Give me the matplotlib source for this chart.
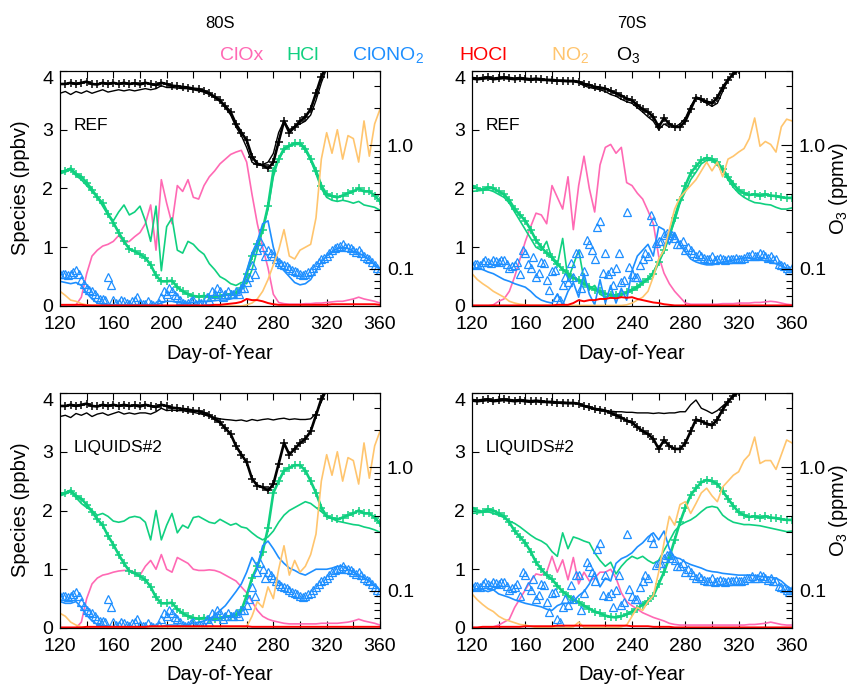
import numpy as np
import matplotlib.pyplot as plt
from matplotlib.ticker import FixedLocator, FixedFormatter, NullFormatter

plt.rcParams['font.family'] = ['Liberation Sans', 'DejaVu Sans']
plt.rcParams['mathtext.fontset'] = 'custom'
plt.rcParams['mathtext.rm'] = 'Liberation Sans'
plt.rcParams['mathtext.it'] = 'Liberation Sans'

PINK = '#ff69b4'
GREEN = '#10d080'
BLUE = '#1e8fff'
RED = '#ff0000'
ORANGE = '#ffc56e'

# day-of-year grid (every 4 days); ClONO2 obs also read in between
days = np.arange(120, 361, 4)
days_mid = np.arange(122, 360, 4)

# ---------------- 80S observations ----------------
hcl_obs_80 = [2.28, 2.30, 2.34, 2.25, 2.20, 2.10, 1.98, 1.85, 1.75, 1.57,
              1.42, 1.25, 1.10, 0.97, 0.93, 0.88, 0.82, 0.70, 0.52, 0.42,
              0.42, 0.43, 0.32, 0.25, 0.20, 0.17, 0.16, 0.17, 0.16, 0.16,
              0.17, 0.19, 0.20, 0.22, 0.30, 0.55, 0.85, 1.05, 1.30, 1.70,
              2.30, 2.50, 2.68, 2.73, 2.77, 2.77, 2.68, 2.50, 2.30, 2.05,
              1.90, 1.87, 1.85, 1.88, 1.92, 1.95, 2.00, 1.95, 1.95, 1.88, 1.78]
clono2_obs_80 = [0.55, 0.55, 0.55, 0.62, 0.45, 0.30, 0.25, 0.15, 0.12, 0.50,
                 0.10, 0.05, 0.08, 0.03, 0.10, 0.05, 0.03, 0.03, 0.02, 0.15,
                 0.20, 0.25, 0.15, 0.05, 0.05, 0.10, 0.05, 0.03, 0.10, 0.20,
                 0.25, 0.20, 0.20, 0.25, 0.30, 0.40, 0.70, 0.95, 1.00, 0.95,
                 0.85, 0.75, 0.70, 0.65, 0.60, 0.55, 0.55, 0.60, 0.70, 0.80,
                 0.85, 0.95, 1.00, 1.05, 1.00, 0.95, 0.95, 0.85, 0.80, 0.70, 0.62]
clono2_obs_80_mid = [0.55, 0.52, 0.58, 0.55, 0.38, 0.28, 0.20, 0.12, 0.10, 0.36,
                     0.05, 0.10, 0.05, 0.08, 0.15, 0.03, 0.08, 0.02, 0.05, 0.25,
                     0.30, 0.18, 0.10, 0.03, 0.08, 0.03, 0.05, 0.15, 0.25, 0.30,
                     0.15, 0.25, 0.20, 0.20, 0.30, 0.50, 0.55, 1.10, 0.85, 0.90,
                     0.80, 0.72, 0.68, 0.62, 0.58, 0.52, 0.58, 0.65, 0.75, 0.82,
                     0.90, 0.98, 1.02, 1.00, 0.98, 0.92, 0.90, 0.82, 0.75, 0.65]
o3_obs_80 = [3.14, 3.14, 3.21, 3.14, 3.21, 3.28, 3.14, 3.11, 3.21, 3.14,
             3.21, 3.14, 3.21, 3.14, 3.18, 3.11, 3.21, 3.14, 3.08, 3.21,
             3.14, 3.04, 3.01, 2.97, 2.94, 2.88, 2.85, 2.76, 2.64, 2.47,
             2.31, 2.07, 1.86, 1.49, 1.27, 1.10, 0.81, 0.71, 0.69, 0.65,
             0.73, 1.07, 1.57, 1.27, 1.41, 1.57, 1.70, 1.96, 2.64, 3.59,
             4.40, 4.80, 4.80, 4.80, 4.80, 4.80, 4.80, 4.80, 4.80, 4.80, 4.80]

# ---------------- 80S REF model ----------------
clox_ref_80 = [0.00, 0.00, 0.00, 0.02, 0.15, 0.55, 0.85, 0.95, 1.02, 1.05,
               1.10, 1.20, 1.08, 1.10, 1.18, 1.25, 1.40, 1.72, 0.95, 2.15,
               1.75, 1.40, 2.05, 1.95, 2.15, 1.85, 1.82, 2.05, 2.20, 2.30,
               2.42, 2.50, 2.58, 2.62, 2.65, 2.45, 1.90, 1.40, 1.00, 0.65,
               0.20, 0.06, 0.04, 0.03, 0.03, 0.03, 0.04, 0.04, 0.05, 0.05,
               0.06, 0.07, 0.08, 0.08, 0.10, 0.12, 0.15, 0.12, 0.10, 0.08, 0.05]
hcl_ref_80 = [2.25, 2.28, 2.32, 2.22, 2.15, 2.05, 1.95, 1.85, 1.70, 1.55,
              1.45, 1.60, 1.72, 1.55, 1.60, 1.70, 1.45, 1.10, 1.70, 0.60,
              1.35, 1.50, 0.95, 0.90, 1.10, 1.05, 0.95, 0.88, 0.72, 0.62,
              0.50, 0.45, 0.38, 0.35, 0.40, 0.38, 0.62, 0.95, 1.30, 1.65,
              2.20, 2.50, 2.65, 2.72, 2.75, 2.75, 2.65, 2.48, 2.25, 2.00,
              1.85, 1.80, 1.78, 1.80, 1.78, 1.75, 1.78, 1.72, 1.70, 1.68, 1.63]
clono2_ref_80 = [0.42, 0.40, 0.38, 0.40, 0.35, 0.22, 0.12, 0.05, 0.03, 0.02,
                 0.02, 0.02, 0.02, 0.02, 0.02, 0.02, 0.02, 0.02, 0.02, 0.05,
                 0.08, 0.08, 0.06, 0.05, 0.05, 0.06, 0.07, 0.08, 0.08, 0.09,
                 0.10, 0.10, 0.12, 0.15, 0.30, 0.60, 0.90, 1.10, 1.40, 1.45,
                 1.00, 0.70, 0.60, 0.50, 0.40, 0.36, 0.38, 0.45, 0.60, 0.75,
                 0.85, 0.92, 0.98, 1.00, 0.98, 0.93, 0.90, 0.85, 0.78, 0.70, 0.62]
hocl_ref_80 = [0.02, 0.02, 0.02, 0.02, 0.02, 0.01, 0.01, 0.01, 0.01, 0.01,
               0.01, 0.01, 0.01, 0.01, 0.01, 0.01, 0.01, 0.01, 0.01, 0.01,
               0.01, 0.01, 0.01, 0.01, 0.01, 0.01, 0.01, 0.01, 0.01, 0.02,
               0.02, 0.03, 0.04, 0.05, 0.07, 0.12, 0.10, 0.10, 0.08, 0.05,
               0.03, 0.02, 0.02, 0.02, 0.02, 0.02, 0.02, 0.02, 0.02, 0.02,
               0.02, 0.03, 0.03, 0.03, 0.03, 0.03, 0.03, 0.03, 0.03, 0.03, 0.02]
no2_ref_80 = [0.25, 0.18, 0.10, 0.08, 0.04, 0.02, 0.01, 0.01, 0.00, 0.00,
              0.00, 0.00, 0.00, 0.00, 0.00, 0.00, 0.00, 0.00, 0.00, 0.00,
              0.00, 0.00, 0.00, 0.00, 0.00, 0.00, 0.00, 0.00, 0.00, 0.00,
              0.00, 0.00, 0.00, 0.00, 0.00, 0.02, 0.05, 0.12, 0.25, 0.45,
              0.70, 0.95, 1.30, 0.85, 0.80, 0.95, 1.00, 1.05, 1.50, 2.50,
              2.95, 2.60, 3.00, 2.50, 2.90, 2.85, 2.45, 3.15, 2.55, 3.10, 3.35]
o3_ref_80 = [2.64, 2.73, 2.58, 2.73, 2.64, 2.76, 2.64, 2.73, 2.82, 2.70,
             2.76, 2.82, 2.76, 2.82, 2.76, 2.82, 2.88, 2.82, 2.88, 3.04,
             2.94, 2.94, 2.91, 2.88, 2.88, 2.82, 2.76, 2.70, 2.58, 2.44,
             2.26, 2.02, 1.76, 1.41, 1.20, 0.96, 0.73, 0.69, 0.70, 0.73,
             0.86, 1.27, 1.57, 1.34, 1.41, 1.49, 1.57, 1.76, 2.31, 3.21,
             4.20, 4.60, 4.60, 4.60, 4.60, 4.60, 4.60, 4.60, 4.60, 4.60, 4.60]

# ---------------- 80S LIQUIDS#2 model ----------------
clox_liq_80 = [0.00, 0.00, 0.00, 0.00, 0.10, 0.50, 0.75, 0.85, 0.90, 0.92,
               0.95, 0.97, 0.98, 0.98, 0.95, 0.90, 1.05, 1.15, 1.00, 1.25,
               1.00, 0.95, 1.20, 1.15, 1.10, 1.00, 0.98, 0.98, 0.99, 0.98,
               0.95, 0.90, 0.85, 0.80, 0.70, 0.60, 0.45, 0.30, 0.20, 0.15,
               0.12, 0.10, 0.08, 0.07, 0.07, 0.07, 0.07, 0.07, 0.07, 0.08,
               0.08, 0.08, 0.08, 0.09, 0.10, 0.12, 0.15, 0.12, 0.10, 0.08, 0.05]
hcl_liq_80 = [2.25, 2.28, 2.32, 2.22, 2.12, 2.05, 2.00, 1.92, 1.95, 1.90,
              1.82, 1.80, 1.82, 1.88, 1.90, 1.88, 1.80, 1.50, 2.00, 1.50,
              1.75, 1.95, 1.62, 1.75, 1.70, 1.88, 1.90, 1.85, 1.80, 1.78,
              1.85, 1.80, 1.75, 1.78, 1.72, 1.70, 1.62, 1.55, 1.50, 1.55,
              1.65, 1.80, 1.92, 2.00, 2.05, 2.10, 2.15, 2.12, 2.05, 1.98,
              1.90, 1.86, 1.82, 1.80, 1.78, 1.76, 1.75, 1.72, 1.70, 1.67, 1.63]
clono2_liq_80 = [0.45, 0.42, 0.42, 0.45, 0.35, 0.22, 0.12, 0.06, 0.04, 0.03,
                 0.02, 0.02, 0.02, 0.02, 0.02, 0.02, 0.02, 0.02, 0.02, 0.02,
                 0.05, 0.05, 0.05, 0.04, 0.06, 0.08, 0.10, 0.12, 0.15, 0.22,
                 0.30, 0.38, 0.50, 0.62, 0.75, 0.95, 1.20, 1.05, 1.40, 1.48,
                 1.35, 1.20, 1.10, 1.02, 0.98, 0.93, 0.90, 0.95, 1.00, 1.00,
                 1.00, 1.02, 1.05, 1.05, 1.00, 0.95, 0.90, 0.85, 0.80, 0.72, 0.65]
hocl_liq_80 = [0.01, 0.01, 0.01, 0.01, 0.01, 0.02, 0.02, 0.02, 0.02, 0.02,
               0.02, 0.02, 0.02, 0.02, 0.02, 0.02, 0.02, 0.03, 0.03, 0.03,
               0.03, 0.03, 0.03, 0.03, 0.03, 0.03, 0.03, 0.03, 0.03, 0.03,
               0.03, 0.03, 0.03, 0.03, 0.03, 0.03, 0.02, 0.02, 0.02, 0.02,
               0.02, 0.02, 0.02, 0.02, 0.02, 0.02, 0.02, 0.02, 0.02, 0.02,
               0.02, 0.02, 0.02, 0.02, 0.02, 0.02, 0.02, 0.02, 0.02, 0.02, 0.02]
no2_liq_80 = [0.25, 0.20, 0.10, 0.05, 0.02, 0.01, 0.00, 0.00, 0.00, 0.00,
              0.00, 0.00, 0.00, 0.00, 0.00, 0.00, 0.00, 0.00, 0.00, 0.00,
              0.00, 0.00, 0.00, 0.00, 0.00, 0.00, 0.00, 0.00, 0.00, 0.00,
              0.00, 0.00, 0.00, 0.00, 0.00, 0.02, 0.20, 0.45, 0.35, 0.70,
              0.50, 1.00, 1.40, 0.90, 1.15, 0.95, 1.05, 1.25, 1.60, 2.50,
              2.95, 2.60, 3.00, 2.50, 2.90, 2.85, 2.45, 3.15, 2.55, 3.10, 3.35]
o3_liq_80 = [2.58, 2.64, 2.53, 2.73, 2.64, 2.76, 2.58, 2.70, 2.76, 2.64,
             2.73, 2.82, 2.70, 2.76, 2.70, 2.76, 2.76, 2.70, 2.82, 3.01,
             2.88, 2.91, 2.88, 2.88, 2.82, 2.79, 2.73, 2.67, 2.58, 2.53,
             2.47, 2.44, 2.42, 2.39, 2.42, 2.36, 2.44, 2.39, 2.44, 2.47,
             2.42, 2.47, 2.50, 2.44, 2.47, 2.44, 2.44, 2.47, 2.73, 3.39,
             4.20, 4.60, 4.60, 4.60, 4.60, 4.60, 4.60, 4.60, 4.60, 4.60, 4.60]

# ---------------- 70S observations ----------------
hcl_obs_70 = [2.05, 2.00, 1.98, 2.02, 2.00, 1.95, 1.90, 1.80, 1.65, 1.55,
              1.45, 1.30, 1.12, 1.00, 0.90, 0.83, 0.72, 0.62, 0.55, 0.48,
              0.44, 0.38, 0.33, 0.28, 0.25, 0.21, 0.19, 0.18, 0.20, 0.23,
              0.28, 0.33, 0.40, 0.46, 0.55, 0.75, 0.95, 1.20, 1.50, 1.80,
              2.05, 2.26, 2.38, 2.48, 2.52, 2.50, 2.45, 2.33, 2.20, 2.08,
              1.97, 1.92, 1.89, 1.90, 1.88, 1.90, 1.88, 1.87, 1.85, 1.84, 1.84]
clono2_obs_70 = [0.70, 0.72, 0.75, 0.75, 0.78, 0.75, 0.78, 0.65, 0.70, 0.55,
                 0.90, 0.65, 0.50, 0.75, 0.45, 0.60, 0.15, 0.35, 0.40, 0.50,
                 0.90, 0.60, 1.05, 0.80, 1.45, 0.90, 0.60, 0.65, 0.40, 1.60,
                 0.55, 0.50, 0.80, 0.85, 1.45, 1.10, 1.20, 1.25, 1.15, 1.05,
                 0.95, 0.95, 0.85, 0.85, 0.80, 0.85, 0.80, 0.80, 0.80, 0.80,
                 0.80, 0.82, 0.85, 0.85, 0.90, 0.85, 0.85, 0.80, 0.70, 0.65, 0.65]
clono2_obs_70_mid = [0.72, 0.70, 0.78, 0.74, 0.76, 0.78, 0.72, 0.68, 0.75, 0.95,
                     0.72, 0.84, 0.56, 0.73, 0.27, 0.62, 0.10, 0.50, 0.73, 0.90,
                     0.30, 1.12, 0.95, 1.35, 0.56, 0.55, 0.35, 0.90, 0.44, 0.67,
                     0.50, 0.70, 0.90, 1.55, 1.07, 1.10, 1.24, 1.20, 1.05, 1.10,
                     1.00, 0.90, 0.88, 0.82, 0.80, 0.78, 0.82, 0.78, 0.80, 0.82,
                     0.80, 0.85, 0.88, 0.85, 0.88, 0.82, 0.80, 0.72, 0.68, 0.62]
o3_obs_70 = [3.51, 3.47, 3.51, 3.55, 3.47, 3.51, 3.55, 3.51, 3.47, 3.51,
             3.47, 3.43, 3.47, 3.43, 3.39, 3.39, 3.35, 3.35, 3.32, 3.32,
             3.28, 3.14, 3.08, 2.97, 2.94, 2.88, 2.76, 2.64, 2.53, 2.39,
             2.31, 2.12, 1.96, 1.86, 1.70, 1.41, 1.66, 1.49, 1.41, 1.41,
             1.57, 1.96, 2.44, 2.36, 2.26, 2.19, 2.44, 2.94, 3.39, 3.79,
             4.08, 4.40, 4.60, 4.60, 4.60, 4.60, 4.60, 4.60, 4.60, 4.60, 4.60]

# ---------------- 70S REF model ----------------
clox_ref_70 = [0.00, 0.00, 0.00, 0.00, 0.02, 0.08, 0.12, 0.25, 0.50, 0.80,
               1.10, 1.35, 1.58, 1.55, 1.40, 2.05, 1.85, 1.65, 2.20, 1.30,
               2.05, 2.55, 2.00, 1.60, 2.40, 2.70, 2.75, 2.60, 2.70, 2.10,
               2.05, 1.92, 1.82, 1.62, 1.40, 0.85, 0.56, 0.38, 0.25, 0.15,
               0.05, 0.03, 0.03, 0.03, 0.03, 0.03, 0.03, 0.04, 0.04, 0.04,
               0.05, 0.05, 0.05, 0.06, 0.06, 0.07, 0.08, 0.07, 0.05, 0.03, 0.02]
hcl_ref_70 = [1.95, 1.96, 1.97, 1.98, 1.95, 1.90, 1.85, 1.75, 1.60, 1.45,
              1.30, 1.15, 1.00, 0.95, 1.10, 0.80, 0.70, 1.15, 0.45, 0.70,
              0.95, 0.45, 0.28, 0.35, 0.20, 0.15, 0.18, 0.15, 0.18, 0.22,
              0.26, 0.30, 0.38, 0.46, 0.58, 0.75, 0.95, 1.18, 1.45, 1.75,
              1.95, 2.15, 2.28, 2.42, 2.48, 2.48, 2.40, 2.30, 2.15, 2.02,
              1.92, 1.85, 1.80, 1.76, 1.75, 1.73, 1.72, 1.68, 1.65, 1.65, 1.67]
clono2_ref_70 = [0.62, 0.65, 0.62, 0.58, 0.55, 0.50, 0.45, 0.42, 0.38, 0.35,
                 0.32, 0.25, 0.16, 0.10, 0.07, 0.05, 0.20, 0.02, 0.25, 0.40,
                 0.15, 0.55, 0.20, 0.02, 0.45, 0.05, 0.35, 0.05, 0.30, 0.10,
                 0.60, 0.85, 0.95, 1.05, 0.85, 1.35, 1.30, 1.05, 1.25, 1.05,
                 0.92, 0.80, 0.75, 0.72, 0.70, 0.70, 0.72, 0.75, 0.76, 0.78,
                 0.80, 0.82, 0.82, 0.80, 0.79, 0.77, 0.75, 0.72, 0.68, 0.64, 0.60]
hocl_ref_70 = [0.01, 0.01, 0.01, 0.01, 0.01, 0.01, 0.01, 0.01, 0.01, 0.01,
               0.01, 0.01, 0.01, 0.01, 0.01, 0.01, 0.02, 0.02, 0.02, 0.05,
               0.10, 0.08, 0.10, 0.10, 0.12, 0.12, 0.14, 0.13, 0.15, 0.14,
               0.15, 0.12, 0.10, 0.08, 0.06, 0.05, 0.03, 0.02, 0.01, 0.01,
               0.01, 0.01, 0.01, 0.01, 0.01, 0.01, 0.01, 0.01, 0.01, 0.01,
               0.01, 0.01, 0.01, 0.01, 0.01, 0.01, 0.01, 0.01, 0.01, 0.01, 0.01]
no2_ref_70 = [0.55, 0.45, 0.38, 0.32, 0.25, 0.20, 0.15, 0.08, 0.05, 0.03,
              0.02, 0.01, 0.01, 0.01, 0.01, 0.01, 0.01, 0.01, 0.01, 0.01,
              0.01, 0.01, 0.01, 0.01, 0.01, 0.01, 0.01, 0.01, 0.01, 0.02,
              0.05, 0.10, 0.15, 0.25, 0.50, 0.80, 0.95, 1.30, 1.65, 1.85,
              1.95, 2.05, 2.15, 2.30, 2.45, 2.30, 2.45, 2.20, 2.50, 2.55,
              2.62, 2.68, 2.85, 3.20, 2.72, 2.80, 2.75, 2.62, 3.05, 3.18, 3.15]
o3_ref_70 = [3.43, 3.39, 3.43, 3.47, 3.39, 3.43, 3.47, 3.43, 3.39, 3.43,
             3.39, 3.35, 3.39, 3.35, 3.35, 3.32, 3.32, 3.28, 3.28, 3.28,
             3.21, 3.04, 2.94, 2.88, 2.82, 2.73, 2.58, 2.50, 2.36, 2.26,
             2.19, 2.02, 1.86, 1.70, 1.57, 1.34, 1.49, 1.41, 1.41, 1.49,
             1.66, 2.07, 2.44, 2.31, 2.19, 2.07, 2.19, 2.73, 3.39, 3.79,
             4.08, 4.40, 4.60, 4.60, 4.60, 4.60, 4.60, 4.60, 4.60, 4.60, 4.60]

# ---------------- 70S LIQUIDS#2 model ----------------
clox_liq_70 = [0.00, 0.00, 0.00, 0.00, 0.02, 0.05, 0.10, 0.15, 0.35, 0.50,
               0.65, 0.80, 0.92, 0.90, 0.95, 1.22, 0.95, 1.16, 0.82, 1.20,
               0.75, 0.95, 0.80, 0.85, 0.95, 0.95, 1.00, 0.85, 0.60, 0.45,
               0.38, 0.32, 0.26, 0.22, 0.18, 0.15, 0.12, 0.08, 0.06, 0.05,
               0.05, 0.05, 0.05, 0.05, 0.05, 0.05, 0.05, 0.05, 0.05, 0.05,
               0.05, 0.05, 0.06, 0.06, 0.07, 0.08, 0.10, 0.08, 0.06, 0.05, 0.05]
hcl_liq_70 = [1.95, 1.96, 1.97, 1.98, 1.95, 1.92, 1.88, 1.82, 1.78, 1.72,
              1.65, 1.58, 1.52, 1.48, 1.42, 1.30, 1.22, 1.62, 1.35, 1.55,
              1.52, 1.48, 1.45, 1.28, 1.15, 1.05, 1.12, 0.92, 1.05, 1.15,
              1.22, 1.18, 1.22, 1.15, 1.10, 1.15, 1.32, 1.48, 1.65, 1.75,
              1.80, 1.84, 1.90, 1.98, 2.05, 2.07, 2.05, 1.92, 1.85, 1.80,
              1.78, 1.76, 1.76, 1.75, 1.74, 1.72, 1.70, 1.68, 1.66, 1.64, 1.65]
clono2_liq_70 = [0.65, 0.67, 0.65, 0.62, 0.65, 0.58, 0.55, 0.52, 0.48, 0.45,
                 0.42, 0.40, 0.38, 0.36, 0.32, 0.30, 0.38, 0.42, 0.42, 0.45,
                 0.55, 0.62, 0.75, 0.95, 0.70, 0.85, 0.80, 1.10, 1.18, 1.22,
                 1.28, 1.38, 1.45, 1.55, 1.62, 1.50, 1.65, 1.35, 1.20, 1.18,
                 1.12, 1.08, 1.05, 1.02, 0.98, 0.96, 0.95, 0.93, 0.92, 0.91,
                 0.90, 0.90, 0.90, 0.89, 0.88, 0.87, 0.86, 0.85, 0.80, 0.72, 0.66]
hocl_liq_70 = [0.01, 0.01, 0.02, 0.02, 0.02, 0.02, 0.02, 0.02, 0.02, 0.02,
               0.03, 0.03, 0.03, 0.03, 0.03, 0.03, 0.04, 0.04, 0.04, 0.04,
               0.04, 0.04, 0.04, 0.04, 0.04, 0.04, 0.04, 0.04, 0.04, 0.04,
               0.03, 0.03, 0.03, 0.03, 0.02, 0.02, 0.02, 0.02, 0.01, 0.01,
               0.01, 0.01, 0.01, 0.01, 0.01, 0.01, 0.01, 0.01, 0.01, 0.01,
               0.01, 0.01, 0.01, 0.01, 0.01, 0.01, 0.01, 0.01, 0.01, 0.01, 0.01]
no2_liq_70 = [0.58, 0.48, 0.40, 0.33, 0.28, 0.20, 0.15, 0.12, 0.09, 0.06,
              0.05, 0.03, 0.01, 0.01, 0.01, 0.01, 0.01, 0.01, 0.01, 0.02,
              0.10, 0.01, 0.01, 0.01, 0.01, 0.01, 0.01, 0.01, 0.02, 0.05,
              0.20, 0.35, 0.30, 0.45, 0.55, 0.95, 1.45, 1.90, 1.75, 2.10,
              2.15, 1.95, 2.12, 2.30, 2.38, 2.25, 2.15, 2.40, 2.50, 2.60,
              2.66, 2.85, 2.95, 3.25, 2.80, 2.85, 2.85, 2.70, 2.95, 3.20, 3.15]
o3_liq_70 = [3.43, 3.39, 3.43, 3.47, 3.39, 3.43, 3.47, 3.43, 3.39, 3.43,
             3.39, 3.35, 3.39, 3.35, 3.35, 3.32, 3.32, 3.28, 3.28, 3.28,
             3.28, 3.14, 3.01, 2.94, 2.88, 2.88, 2.85, 2.82, 2.82, 2.79,
             2.79, 2.76, 2.76, 2.76, 2.73, 2.76, 2.73, 2.76, 2.76, 2.82,
             2.82, 3.21, 3.51, 3.01, 2.88, 2.73, 2.88, 3.14, 3.43, 3.79,
             4.08, 4.40, 4.60, 4.60, 4.60, 4.60, 4.60, 4.60, 4.60, 4.60, 4.60]

species = [("ClOx", PINK), ("HCl", GREEN), (r"ClONO$_\mathrm{2}$", BLUE),
           ("HOCl", RED), (r"NO$_\mathrm{2}$", ORANGE), (r"O$_\mathrm{3}$", "k")]
legend_x = [242, 303, 388, 483, 570, 628]

W, H = 848, 686
fig = plt.figure(figsize=(W / 100, H / 100), dpi=100)


def px_rect(left, top, right, bottom):
    return [left / W, 1 - bottom / H, (right - left) / W, (bottom - top) / H]


def draw_panel(rect, tag, clox, hcl, clono2, hocl, no2, o3,
               hcl_obs, clono2_obs, clono2_obs_mid, o3_obs):
    ax = fig.add_axes(rect)
    ax.plot(days, clox, color=PINK, lw=1.2)
    ax.plot(days, hcl, color=GREEN, lw=1.2)
    ax.plot(days, hcl_obs, color=GREEN, lw=1.9, marker='+', ms=6, mew=1.1)
    for d, v in ((days, clono2_obs), (days_mid, clono2_obs_mid)):
        ax.plot(d, v, ls='none', marker='^', ms=5.5, mfc='none', mec=BLUE, mew=0.9)
    ax.plot(days, clono2, color=BLUE, lw=1.2)
    ax.plot(days, no2, color=ORANGE, lw=1.2)
    ax.plot(days, hocl, color=RED, lw=1.4)
    ax.set_xlim(120, 360)
    ax.set_ylim(0, 4)
    ax.xaxis.set_major_locator(FixedLocator(range(120, 361, 40)))
    ax.xaxis.set_minor_locator(FixedLocator(range(140, 360, 40)))
    ax.yaxis.set_major_locator(FixedLocator([0, 1, 2, 3, 4]))
    ax.tick_params(which='both', direction='in', top=True, right=False,
                   length=5, width=0.8, labelsize=14)
    ax.tick_params(axis='x', pad=7)
    ax.tick_params(axis='y', pad=5)
    ax.yaxis.get_major_ticks()[-1].label1.set_verticalalignment('top')
    ax.text(130.5, 3.08, tag, fontsize=12.5, va='center', ha='left')

    ax2 = ax.twinx()
    ax2.set_yscale('log')
    ax2.set_ylim(0.05, 4)
    ax2.plot(days, o3, color='k', lw=1.0)
    ax2.plot(days, o3_obs, color='k', lw=1.9, marker='+', ms=6, mew=1.1)
    ax2.yaxis.set_major_locator(FixedLocator([0.1, 1.0]))
    ax2.yaxis.set_major_formatter(FixedFormatter(["0.1", "1.0"]))
    ax2.yaxis.set_minor_locator(FixedLocator([0.06, 0.07, 0.08, 0.09, 0.2, 0.3, 0.4,
                                              0.5, 0.6, 0.7, 0.8, 0.9, 2, 3, 4]))
    ax2.yaxis.set_minor_formatter(NullFormatter())
    ax2.tick_params(which='major', direction='in', length=8, width=0.8,
                    labelsize=14, pad=5)
    ax2.tick_params(which='minor', direction='in', length=4, width=0.8)
    for a in (ax, ax2):
        for s in a.spines.values():
            s.set_linewidth(0.8)
    return ax


draw_panel(px_rect(60, 71, 380, 306), "REF", clox_ref_80, hcl_ref_80, clono2_ref_80,
           hocl_ref_80, no2_ref_80, o3_ref_80,
           hcl_obs_80, clono2_obs_80, clono2_obs_80_mid, o3_obs_80)
draw_panel(px_rect(472, 71, 792, 306), "REF", clox_ref_70, hcl_ref_70, clono2_ref_70,
           hocl_ref_70, no2_ref_70, o3_ref_70,
           hcl_obs_70, clono2_obs_70, clono2_obs_70_mid, o3_obs_70)
draw_panel(px_rect(60, 393, 380, 628), "LIQUIDS#2", clox_liq_80, hcl_liq_80, clono2_liq_80,
           hocl_liq_80, no2_liq_80, o3_liq_80,
           hcl_obs_80, clono2_obs_80, clono2_obs_80_mid, o3_obs_80)
draw_panel(px_rect(472, 393, 792, 628), "LIQUIDS#2", clox_liq_70, hcl_liq_70, clono2_liq_70,
           hocl_liq_70, no2_liq_70, o3_liq_70,
           hcl_obs_70, clono2_obs_70, clono2_obs_70_mid, o3_obs_70)

# titles and legend row
fig.text(220 / W, 1 - 23 / H, "80S", fontsize=12, ha='center', va='center')
fig.text(632 / W, 1 - 23 / H, "70S", fontsize=12, ha='center', va='center')
for (name, col), x in zip(species, legend_x):
    fig.text(x / W, 1 - 55 / H, name, color=col, fontsize=14, ha='center', va='center')

# axis titles
for cx in (220, 632):
    fig.text(cx / W, 1 - 353 / H, "Day-of-Year", fontsize=14.5, ha='center', va='center')
    fig.text(cx / W, 1 - 675 / H, "Day-of-Year", fontsize=14.5, ha='center', va='center')
for cy in (188, 510):
    fig.text(21 / W, 1 - cy / H, "Species (ppbv)", fontsize=14.5, rotation=90,
             ha='center', va='center')
    fig.text(838 / W, 1 - cy / H, r"O$_\mathrm{3}$ (ppmv)", fontsize=14.5, rotation=90,
             ha='center', va='center')

fig.savefig("out.png", dpi=100)
